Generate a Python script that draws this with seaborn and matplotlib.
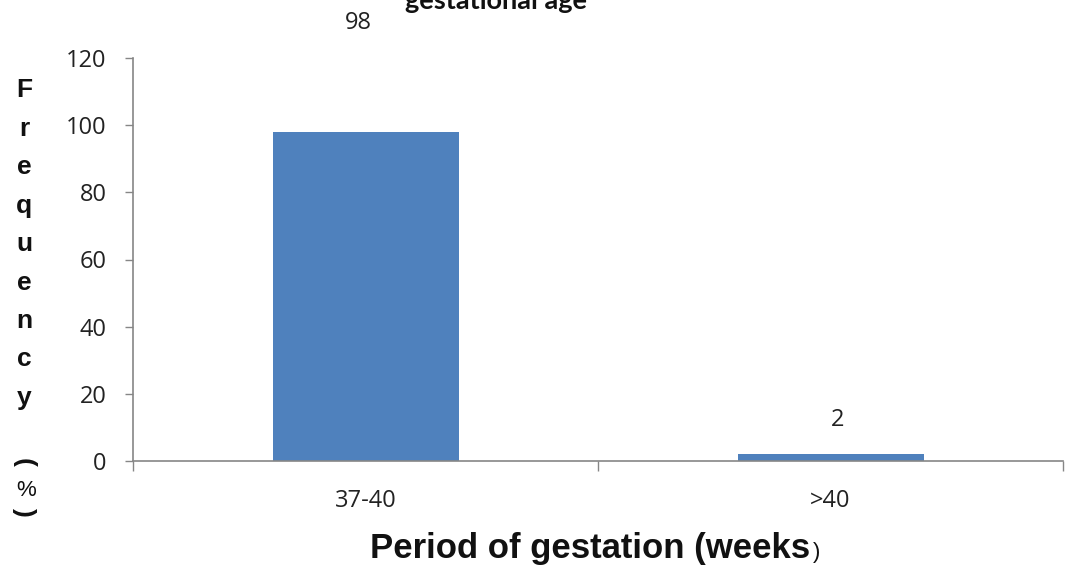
import matplotlib
matplotlib.use("Agg")
import matplotlib.pyplot as plt
import seaborn as sns
import pandas as pd
from matplotlib.ticker import FixedLocator

# Gestational age distribution
categories = ["37-40", ">40"]
frequency = [98, 2]
y_ticks = [0, 20, 40, 60, 80, 100, 120]
ylabel_chars = ["F", "r", "e", "q", "u", "e", "n", "c", "y"]

df = pd.DataFrame({"period": categories, "freq": frequency})

sns.set_theme(style="white")
plt.rcParams["font.family"] = ["Open Sans", "DejaVu Sans"]

W, H = 1065, 568
fig = plt.figure(figsize=(W / 100, H / 100), dpi=100)
ax = fig.add_axes([133 / W, (H - 461) / H, (1063 - 133) / W, (461 - 58) / H])

bar_color = "#4F81BD"
axis_color = "#868686"
text_color = "#222222"

sns.barplot(data=df, x="period", y="freq", color=bar_color, width=0.4,
            saturation=1, ax=ax, edgecolor="none")

ax.set_xlim(-0.5, 1.5)
ax.set_ylim(0, 120)
ax.set_yticks(y_ticks)
ax.set_yticklabels([str(t) for t in y_ticks], fontsize=17, color=text_color)
ax.set_xticks(range(len(categories)))
ax.set_xticklabels(categories, fontsize=17, color=text_color)
ax.xaxis.set_minor_locator(FixedLocator([-0.5, 0.5, 1.5]))
ax.tick_params(axis="x", which="major", length=0, pad=20)
ax.tick_params(axis="x", which="minor", length=7, width=1, color=axis_color, direction="out", bottom=True)
ax.tick_params(axis="y", which="major", length=6, width=1, color=axis_color, direction="out", pad=13, left=True)

for side in ["top", "right"]:
    ax.spines[side].set_visible(False)
for side in ["left", "bottom"]:
    ax.spines[side].set_color(axis_color)
    ax.spines[side].set_linewidth(1.2)

ax.set_xlabel("")
ax.set_ylabel("")

# value labels above the bars
label_offsets = [32.5, 10.2]
label_dx = [-0.016, 0.016]
for i, (v, off, dx) in enumerate(zip(frequency, label_offsets, label_dx)):
    ax.text(i + dx, v + off, str(v), ha="center", va="center", fontsize=17,
            color=text_color, clip_on=False)

# axis title along the bottom
xl = fig.text(370 / W, 1 - 558 / H, "Period of gestation (weeks", ha="left", va="baseline",
              fontsize=25, fontweight="bold", family="Liberation Sans", color="#111111")
fig.canvas.draw()
x_end = xl.get_window_extent(fig.canvas.get_renderer()).x1
fig.text((x_end + 3) / W, 1 - 558 / H, ")", ha="left", va="baseline",
         fontsize=16, family="Liberation Sans", color="#111111")

# vertical stacked y-axis title; parentheses turned sideways
for k, ch in enumerate(ylabel_chars):
    fig.text(24 / W, 1 - (97 + 38.5 * k) / H, ch, ha="center", va="baseline",
             fontsize=19, fontweight="bold", family="Liberation Sans", color="#111111")
fig.text(24 / W, 1 - 462 / H, "(", ha="center", va="center", rotation=-90,
         fontsize=19, fontweight="bold", family="Liberation Sans", color="#111111")
fig.text(26 / W, 1 - 490 / H, "%", ha="center", va="center",
         fontsize=16, family="Liberation Sans", color="#111111")
fig.text(24 / W, 1 - 512 / H, ")", ha="center", va="center", rotation=-90,
         fontsize=19, fontweight="bold", family="Liberation Sans", color="#111111")

# chart title (upper line falls outside the canvas)
fig.text(405 / W, 1 - 9 / H, "gestational age", ha="left", va="baseline",
         fontsize=19.5, fontweight="bold", family="Lato", color="#111111")

fig.savefig("out.png", dpi=100)
